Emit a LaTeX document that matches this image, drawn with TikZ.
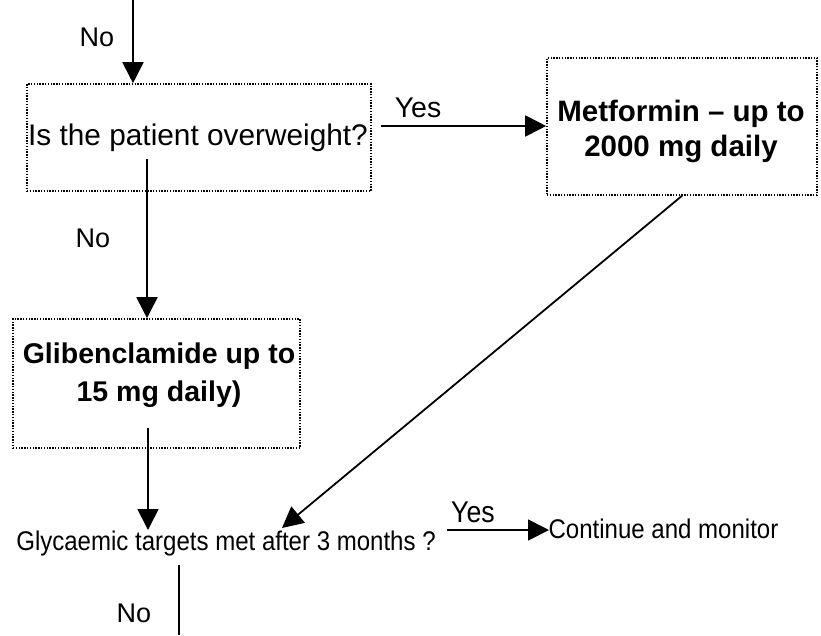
\documentclass[tikz,border=0pt]{standalone}
\usepackage{fontspec}
\setmainfont{Liberation Sans}
\newfontfamily\narrowfont[FakeStretch=0.89]{Liberation Sans}
\usetikzlibrary{arrows.meta}
\tikzset{
  dotbox/.style={draw, line width=1.6pt, dash pattern=on 1.4pt off 1.4pt, inner sep=0pt, align=center},
  arr/.style={line width=1.8pt, -{Triangle[width=21pt,length=21pt]}},
  plain/.style={line width=1.8pt},
  lbl/.style={inner sep=0pt, font=\fontsize{27}{32}\selectfont},
}
\begin{document}
\begin{tikzpicture}[x=1pt,y=-1pt]
\useasboundingbox (0,0) rectangle (821,635);
% boxes
\node[dotbox, minimum width=344pt, minimum height=107pt] (q1) at (199,137.5) {};
\node[lbl, font=\fontsize{29.8}{34}\selectfont] (q1t) at (198,138) {Is the patient overweight?};
\node[dotbox, minimum width=270pt, minimum height=137pt] (met) at (682,126.5) {};
\node[lbl, font=\fontsize{29.5}{35}\bfseries\selectfont, align=center] (mett) at (681,131) {Metformin -- up to\\2000 mg daily};
\node[dotbox, minimum width=287pt, minimum height=129pt] (gli) at (156.5,383.5) {};
\node[lbl, font=\fontsize{28.5}{38}\bfseries\selectfont, align=center] (glit) at (159,375) {Glibenclamide up to\\15 mg daily)};
% bottom texts
\node[lbl, font=\narrowfont\fontsize{27}{32}\selectfont] (q2) at (226,544) {Glycaemic targets met after 3 months ?};
\node[lbl, font=\narrowfont\fontsize{27}{32}\selectfont] (cont) at (663.5,529) {Continue and monitor};
% labels
\node[lbl] (no1) at (97,37) {No};
\node[lbl] (no2) at (93,238) {No};
\node[lbl] (no3) at (134,613) {No};
\node[lbl, font=\fontsize{28.5}{32}\selectfont] (yes1) at (418,108) {Yes};
\node[lbl, font=\narrowfont\fontsize{30}{32}\selectfont] (yes2) at (473,512) {Yes};
% coordinates
\coordinate (top) at (133,0);
\coordinate (s1) at (147,159);
\coordinate (ya) at (381,126);
\coordinate (s2) at (148,428);
\coordinate (t2) at (148,530);
\coordinate (dg) at (282,528);
\coordinate (yb) at (447,530);
\coordinate (cw) at (549,530);
\coordinate (s3) at (179,565);
\coordinate (e3) at (179,635);
% connectors
\draw[arr] (top) -- (top |- q1.north);
\draw[arr] (s1) -- (s1 |- gli.north);
\draw[arr] (ya) -- (ya -| met.west);
\draw[arr] (met.south) -- (dg);
\draw[arr] (s2) -- (t2);
\draw[arr] (yb) -- (cw);
\draw[plain] (s3) -- (e3);
\end{tikzpicture}
\end{document}
